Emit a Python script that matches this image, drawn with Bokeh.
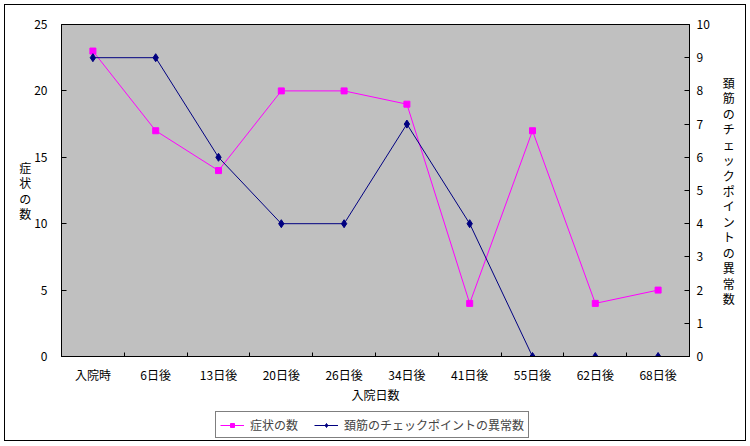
from bokeh.plotting import figure
from bokeh.layouts import column
from bokeh.models import (Range1d, LinearAxis, FixedTicker, SingleIntervalTicker,
                          Legend, LegendItem)
from bokeh.embed import file_html
from bokeh.resources import INLINE

categories = ["入院時", "6日後", "13日後", "20日後", "26日後", "34日後", "41日後", "55日後", "62日後", "68日後"]
symptoms = [23, 17, 14, 20, 20, 19, 4, 17, 4, 5]
neck_checks = [9, 9, 6, 4, 4, 7, 4, 0, 0, 0]
left_label = "症状の数"
right_label = "頚筋のチェックポイントの異常数"
x_label = "入院日数"

FONT = "Noto Sans CJK JP"
MAGENTA = "#FF00FF"
NAVY = "#000080"
xs = [i + 0.5 for i in range(len(categories))]

p = figure(width=740, height=405, output_backend="svg", toolbar_location=None,
           x_range=Range1d(0, len(categories)), y_range=Range1d(0, 25),
           min_border_left=56, min_border_right=56, min_border_top=19, min_border_bottom=54,
           background_fill_color="#C0C0C0", border_fill_color="white",
           outline_line_color="black", outline_line_width=1)
p.extra_y_ranges = {"right": Range1d(0, 10)}
p.grid.visible = False

# x axis: labels centred in categories, tick marks on category boundaries
xa = p.xaxis[0]
xa.ticker = FixedTicker(ticks=xs, minor_ticks=list(range(1, len(categories))))
xa.major_label_overrides = {x: c for x, c in zip(xs, categories)}
xa.minor_tick_in = 4
xa.minor_tick_out = 0
xa.minor_tick_line_color = "black"
xa.major_label_standoff = 3
xa.axis_label = x_label
xa.axis_label_standoff = 0

# left axis
ya = p.yaxis[0]
ya.ticker = SingleIntervalTicker(interval=5, num_minor_ticks=0)
ya.major_tick_in = 5
ya.major_tick_out = 0
ya.minor_tick_line_color = None
ya.major_label_standoff = 14
ya.axis_label = "\n".join(left_label)
ya.axis_label_orientation = "horizontal"
ya.axis_label_standoff = 0
ya.axis_label_text_line_height = 0.9

# right axis
ra = LinearAxis(y_range_name="right", ticker=SingleIntervalTicker(interval=1, num_minor_ticks=0))
ra.major_tick_in = 5
ra.major_tick_out = 0
ra.minor_tick_line_color = None
ra.major_label_standoff = 7
ra.axis_label = "\n".join(right_label)
ra.axis_label_orientation = "horizontal"
ra.axis_label_standoff = 10
ra.axis_label_text_line_height = 0.91
p.add_layout(ra, "right")

for ax in [xa, ya, ra]:
    ax.major_label_text_font = FONT
    ax.major_label_text_font_size = "12px"
    ax.major_label_text_color = "black"
    ax.axis_label_text_font = FONT
    ax.axis_label_text_font_size = "12px"
    ax.axis_label_text_font_style = "normal"
    ax.axis_label_text_color = "black"
    ax.axis_line_color = "black"
    ax.major_tick_line_color = "black"
xa.major_tick_line_color = None

p.line(xs, symptoms, line_color=MAGENTA, line_width=1)
p.scatter(xs, symptoms, marker="square", size=6, fill_color=MAGENTA, line_color=MAGENTA)
p.line(xs, neck_checks, line_color=NAVY, line_width=1, y_range_name="right")
p.scatter(xs, neck_checks, marker="diamond", size=8, fill_color=NAVY, line_color=NAVY,
          y_range_name="right")

# legend strip below the chart (legend-only renderers carry no visible data)
q = figure(width=740, height=30, output_backend="svg", toolbar_location=None,
           x_range=Range1d(0, 1), y_range=Range1d(0, 1),
           x_axis_location=None, y_axis_location=None, min_border=0,
           background_fill_color="white", border_fill_color="white", outline_line_color=None)
q.grid.visible = False
nan = [float("nan")]
k1 = q.line(nan, nan, line_color=MAGENTA, line_width=1)
m1 = q.scatter(nan, nan, marker="square", size=6, fill_color=MAGENTA, line_color=MAGENTA)
k2 = q.line(nan, nan, line_color=NAVY, line_width=1)
m2 = q.scatter(nan, nan, marker="diamond", size=8, fill_color=NAVY, line_color=NAVY)
legend = Legend(items=[LegendItem(label=left_label, renderers=[k1, m1]),
                       LegendItem(label=right_label, renderers=[k2, m2])],
                orientation="horizontal", location=(154, 2),
                border_line_color="black", border_line_width=1, background_fill_color="white",
                label_text_font=FONT, label_text_font_size="12px",
                glyph_width=24, glyph_height=10, label_height=10,
                padding=4, spacing=16, label_standoff=6, margin=0)
q.add_layout(legend, "center")

layout = column(p, q, spacing=0, styles={"border": "1px solid black", "margin": "4px"})
open("out.html", "w").write(file_html(layout, INLINE))
